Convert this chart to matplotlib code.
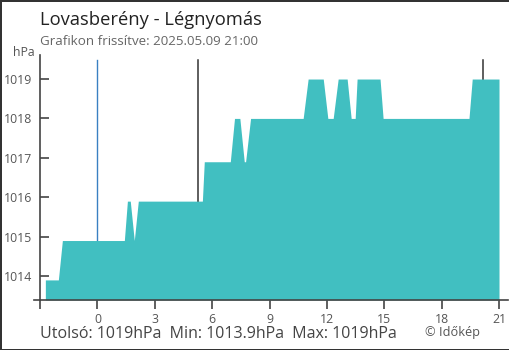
import matplotlib
matplotlib.use("Agg")
import matplotlib.pyplot as plt
from matplotlib.lines import Line2D

# ---- data ----
hours = [-2.72, -2.04, -1.83, 1.41, 1.57, 1.72, 1.93, 2.14, 5.49, 5.59,
         6.95, 7.17, 7.45, 7.68, 7.75, 8.01, 10.76, 11.02, 11.81, 12.05,
         12.33, 12.59, 13.06, 13.27, 13.48, 13.58, 14.78, 14.94, 19.43, 19.6, 21.0]
pressure = [1013.9, 1013.9, 1014.9, 1014.9, 1015.9, 1015.9, 1014.9, 1015.9, 1015.9, 1016.9,
            1016.9, 1018, 1018, 1016.9, 1016.9, 1018, 1018, 1019, 1019, 1018,
            1018, 1019, 1019, 1018, 1018, 1019, 1019, 1018, 1018, 1019, 1019]
x_ticks = [-3, 0, 3, 6, 9, 12, 15, 18, 21]
x_tick_labels = ["", "0", "3", "6", "9", "12", "15", "18", "21"]
y_ticks = [1014, 1015, 1016, 1017, 1018, 1019]
marker_hours = [5.26, 20.18]
now_hour = 0
title = "Lovasberény - Légnyomás"
subtitle = "Grafikon frissítve: 2025.05.09 21:00"
footer = "Utolsó: 1019hPa  Min: 1013.9hPa  Max: 1019hPa"
credit = "© Időkép"

plt.rcParams['font.family'] = ['Open Sans', 'DejaVu Sans']

W, H = 510, 350
fig = plt.figure(figsize=(W / 100, H / 100), dpi=100, facecolor='white',
                 edgecolor='#333333', linewidth=2)

def fx(px):
    return px / W

def fy(py):
    return 1 - py / H

left, right, top, bottom = 40, 508, 55, 300
ax = fig.add_axes([fx(left), fy(bottom), fx(right - left), (bottom - top) / H])
ax.set_xlim(-2.98, 21.47)
ax.set_ylim(1013.39, 1019.61)

ylo = 1013.39
# vertical marker lines (behind fill)
for h in marker_hours:
    ax.plot([h, h], [ylo, 1019.48], color='#333333', lw=1.1, zorder=1)
ax.plot([now_hour, now_hour], [ylo, 1019.48], color='#3a80c2', lw=1.0, zorder=1)

ax.fill_between(hours, pressure, ylo, color='#41bfc1', lw=0, zorder=2)

for s in ['top', 'right']:
    ax.spines[s].set_visible(False)
for s in ['left', 'bottom']:
    ax.spines[s].set_color('#444444')
    ax.spines[s].set_linewidth(1.2)
    ax.spines[s].set_zorder(3)

ax.set_xticks(x_ticks)
ax.set_xticklabels(x_tick_labels)
ax.tick_params(axis='x', direction='out', length=6.5, width=1.2, color='#444444',
               labelsize=8.8, labelcolor='#555555', pad=3)
ax.get_xticklines()[2].set_color('#3a80c2')

ax.set_yticks(y_ticks)
ax.set_yticklabels([str(v) for v in y_ticks])
ax.set_yticks(y_ticks, minor=True)
ax.tick_params(axis='y', which='major', direction='in', length=6.5, width=1.2,
               color='#444444', labelsize=8.8, labelcolor='#555555', pad=5.5)
ax.tick_params(axis='y', which='minor', direction='out', length=4, width=1.2,
               color='#444444')

# extend x axis line a little to the left of y axis
fig.add_artist(Line2D([fx(34), fx(40)], [fy(300), fy(300)], color='#444444', lw=1.2))

fig.text(fx(40), fy(25), title, fontsize=13.2, color='#222222', va='baseline')
fig.text(fx(40), fy(45), subtitle, fontsize=9.65, color='#666666', va='baseline')
fig.text(fx(13), fy(56), "hPa", fontsize=8.8, color='#555555', va='baseline')
fig.text(fx(40), fy(338), footer, fontsize=11.5, color='#444444', va='baseline')
fig.text(fx(425), fy(336), credit, fontsize=9.2, color='#555555', va='baseline')

fig.savefig("out.png", dpi=100, facecolor='white', edgecolor='#333333')
